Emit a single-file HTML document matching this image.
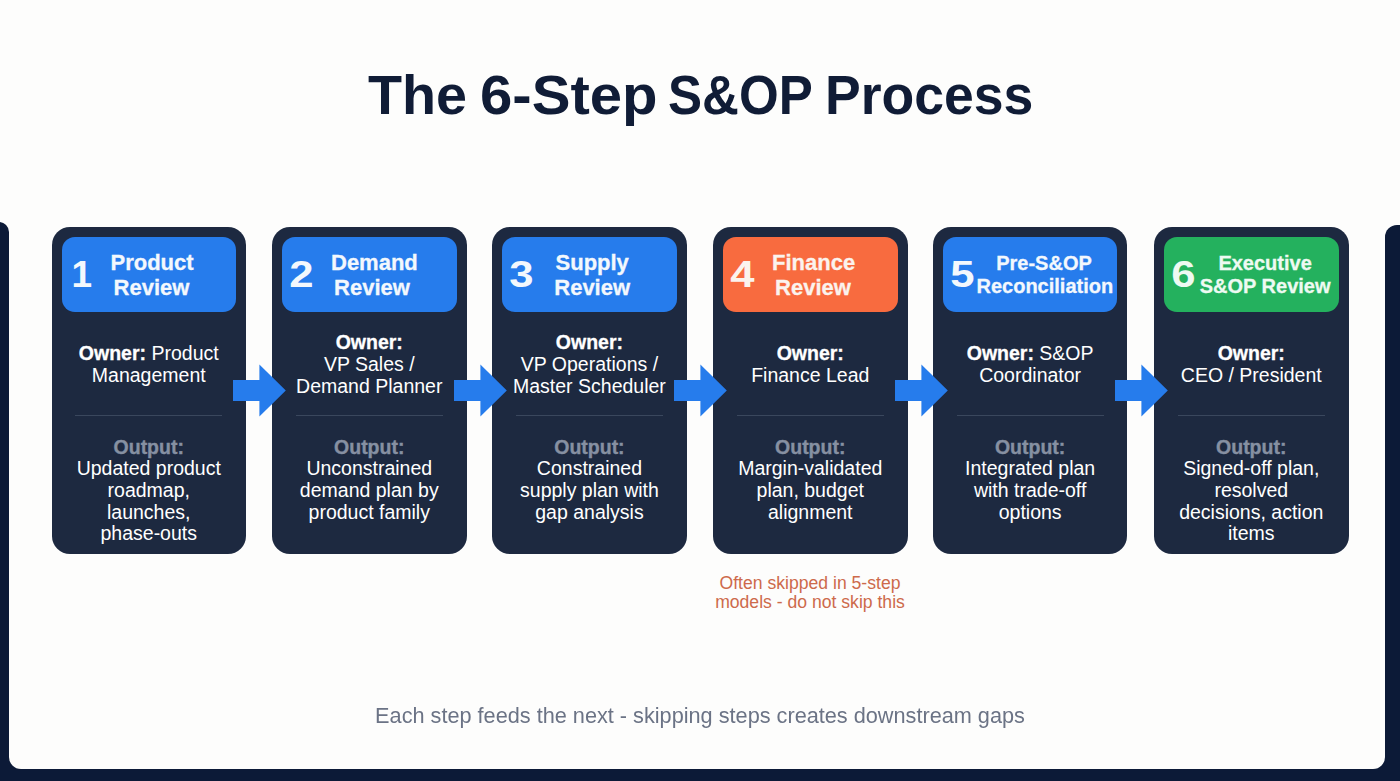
<!DOCTYPE html>
<html><head><meta charset="utf-8">
<style>
*{margin:0;padding:0;box-sizing:border-box}
html,body{width:1400px;height:781px;overflow:hidden;background:#fdfdfc;font-family:"Liberation Sans",sans-serif}
.nav{position:absolute;background:#0c1a37}
#navL{left:-40px;top:222px;width:49.3px;height:620px;border-radius:10px}
#navR{left:1384.8px;top:225px;width:60px;height:620px;border-radius:12px}
#navB{left:-40px;top:740px;width:1480px;height:80px;border-radius:0}
#panel{position:absolute;left:9.4px;top:-60px;width:1375.4px;height:829.4px;background:#fdfdfc;border-radius:0 0 12px 12px}
.tw{position:absolute;top:63px;white-space:nowrap;font-size:55.5px;font-weight:bold;color:#101c36;line-height:64px;transform-origin:0 0}
.card{position:absolute;top:226.5px;width:194.5px;height:327px;background:#1d2940;border-radius:18px}
.hdr{position:absolute;left:10px;top:10px;width:174.5px;height:75.5px;border-radius:13px;background:#267cec;color:#f3f8fd}
.num{position:absolute;left:9px;top:16px;font-size:37px;font-weight:bold;line-height:44px;transform:scaleX(1.18)}
.ttl{position:absolute;font-weight:bold;text-align:center;white-space:nowrap;-webkit-text-stroke:0.3px currentColor}
.ttl.big{font-size:22px;line-height:25.6px;top:13px}
.ttl.sm{font-size:20px;line-height:22.7px;top:15.5px}
.own{position:absolute;left:0;width:194.5px;top:86.3px;height:103px;display:flex;align-items:center;justify-content:center;text-align:center;color:#fff;font-size:19.5px;line-height:22px;padding-bottom:0px}
.own b{font-weight:bold;-webkit-text-stroke:0.3px #fff}
.div{position:absolute;left:23.7px;width:147px;top:188.5px;height:1.2px;background:#3a475d}
.out{position:absolute;left:0;width:194.5px;top:210px;text-align:center;color:#fff;font-size:19.5px;line-height:21.7px}
.out b{display:block;color:#8690a2;-webkit-text-stroke:0.35px #8690a2}
.arrow{position:absolute;top:364px;width:54px;height:53px}
.note{position:absolute;left:610px;width:400px;top:573.5px;text-align:center;color:#cd6a4b;font-size:17.6px;line-height:19px}
.cap{position:absolute;left:0;width:1400px;top:701.5px;text-align:center;color:#6b7385;font-size:21.7px;line-height:28px}
</style></head><body>
<div class="nav" id="navL"></div>
<div class="nav" id="navR"></div>
<div class="nav" id="navB"></div>
<div id="panel"></div>
<div class="tw" style="left:367.97px;transform:scaleX(1.004)">The</div><div class="tw" style="left:479.76px;transform:scaleX(1.0466)">6-Step</div><div class="tw" style="left:668.12px;transform:scaleX(0.9201)">S&amp;OP</div><div class="tw" style="left:824.66px;transform:scaleX(0.9649)">Process</div>

<div class="card" style="left:51.5px">
  <div class="hdr"><div class="num" style="transform:none;left:10px">1</div><div class="ttl big" style="left:49px;width:82px">Product<br>Review</div></div>
  <div class="own"><div><b>Owner:</b> Product<br>Management</div></div>
  <div class="div"></div>
  <div class="out"><b>Output:</b>Updated product<br>roadmap,<br>launches,<br>phase-outs</div>
</div>

<div class="card" style="left:272px">
  <div class="hdr"><div class="num">2</div><div class="ttl big" style="left:49px;width:82px">Demand<br>Review</div></div>
  <div class="own"><div><b>Owner:</b><br>VP Sales /<br>Demand Planner</div></div>
  <div class="div"></div>
  <div class="out"><b>Output:</b>Unconstrained<br>demand plan by<br>product family</div>
</div>

<div class="card" style="left:492.2px">
  <div class="hdr"><div class="num">3</div><div class="ttl big" style="left:49px;width:82px">Supply<br>Review</div></div>
  <div class="own"><div><b>Owner:</b><br>VP Operations /<br>Master Scheduler</div></div>
  <div class="div"></div>
  <div class="out"><b>Output:</b>Constrained<br>supply plan with<br>gap analysis</div>
</div>

<div class="card" style="left:713px">
  <div class="hdr" style="background:#f86b3f;color:#fbf3ee"><div class="num">4</div><div class="ttl big" style="left:49px;width:82px">Finance<br>Review</div></div>
  <div class="own"><div><b>Owner:</b><br>Finance Lead</div></div>
  <div class="div"></div>
  <div class="out"><b>Output:</b>Margin-validated<br>plan, budget<br>alignment</div>
</div>

<div class="card" style="left:932.9px">
  <div class="hdr"><div class="num">5</div><div class="ttl sm" style="left:33.6px;width:135px">Pre-S&amp;OP<br>Reconciliation</div></div>
  <div class="own"><div><b>Owner:</b> S&amp;OP<br>Coordinator</div></div>
  <div class="div"></div>
  <div class="out"><b>Output:</b>Integrated plan<br>with trade-off<br>options</div>
</div>

<div class="card" style="left:1154px">
  <div class="hdr" style="background:#24b15e;color:#eefaf2"><div class="num">6</div><div class="ttl sm" style="left:33.6px;width:135px">Executive<br>S&amp;OP Review</div></div>
  <div class="own"><div><b>Owner:</b><br>CEO / President</div></div>
  <div class="div"></div>
  <div class="out"><b>Output:</b>Signed-off plan,<br>resolved<br>decisions, action<br>items</div>
</div>

<svg class="arrow" style="left:233px" viewBox="0 0 54 53"><path d="M0 16H26.4V0.5L52.8 26.5L26.4 52.5V37H0Z" fill="#267cec"/></svg>
<svg class="arrow" style="left:453.5px" viewBox="0 0 54 53"><path d="M0 16H26.4V0.5L52.8 26.5L26.4 52.5V37H0Z" fill="#267cec"/></svg>
<svg class="arrow" style="left:674px" viewBox="0 0 54 53"><path d="M0 16H26.4V0.5L52.8 26.5L26.4 52.5V37H0Z" fill="#267cec"/></svg>
<svg class="arrow" style="left:894.5px" viewBox="0 0 54 53"><path d="M0 16H26.4V0.5L52.8 26.5L26.4 52.5V37H0Z" fill="#267cec"/></svg>
<svg class="arrow" style="left:1115px" viewBox="0 0 54 53"><path d="M0 16H26.4V0.5L52.8 26.5L26.4 52.5V37H0Z" fill="#267cec"/></svg>

<div class="note">Often skipped in 5-step<br>models - do not skip this</div>
<div class="cap">Each step feeds the next - skipping steps creates downstream gaps</div>
</body></html>
